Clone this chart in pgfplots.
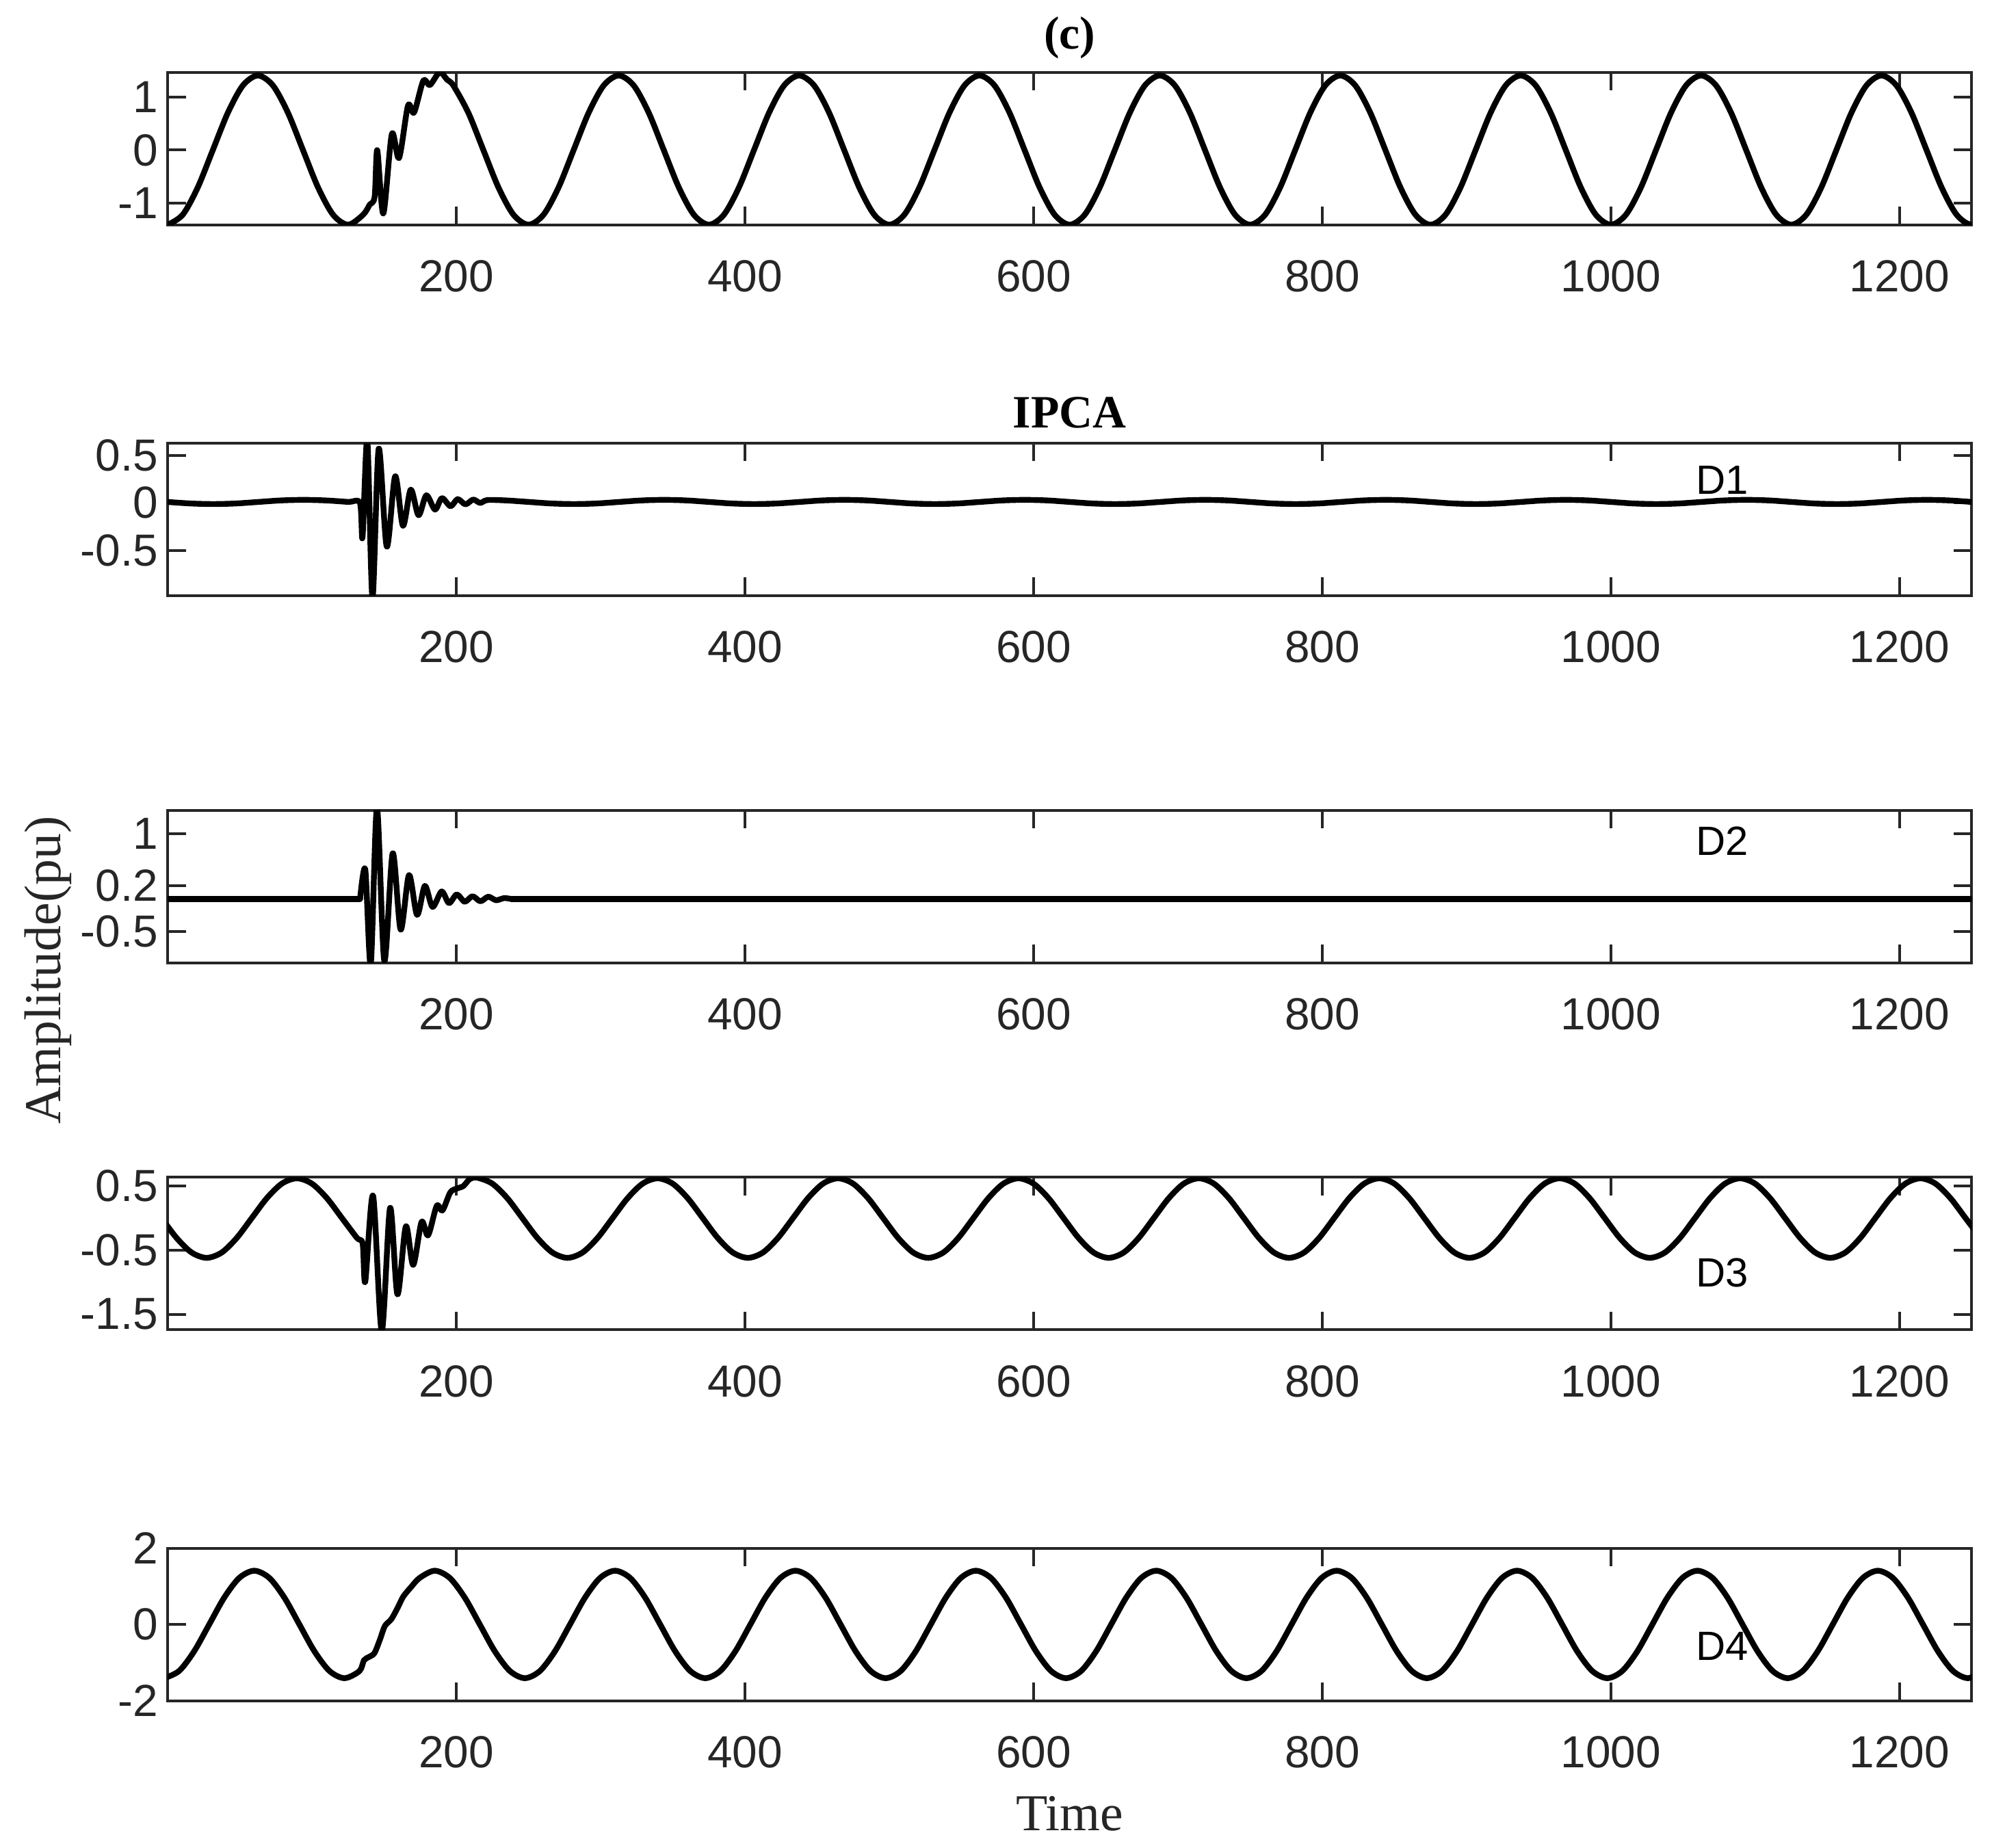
\documentclass[border=0pt]{standalone}
\usepackage{fontspec}
\setmainfont{Liberation Serif}
\setsansfont{Liberation Sans}
\usepackage{pgfplots}
\pgfplotsset{compat=1.18}
\definecolor{axgray}{HTML}{262626}
\tikzset{dlab/.style={font=\fontsize{15}{17}\sffamily, text=black}}
\pgfplotsset{
  panel/.style={
    scale only axis, width=659.27bp, height=55.71bp,
    anchor=south west,
    xmin=0, xmax=1250,
    xtick={200,400,600,800,1000,1200},
    xticklabels={200,400,600,800,1000,1200},
    tick align=inside,
    major tick length=6.6bp,
    axis line style={line width=1bp, draw=axgray},
    major tick style={line width=1bp, draw=axgray},
    tick label style={font=\fontsize{16.5}{18}\sffamily, text=axgray},
    xticklabel style={yshift=-9.5bp},
    clip=true,
  },
  sig/.style={black, line width=2.1bp, line join=round, line cap=round, smooth},
  flat/.style={black, line width=2.1bp, line join=round, line cap=round},
}
\begin{document}
\begin{tikzpicture}
\useasboundingbox (0,0) rectangle (728bp,675.5bp);

% ---------------- Panel 1 : (c)
\begin{axis}[panel, at={(61.29bp,593.35bp)}, ymin=-1.41, ymax=1.47,
  ytick={-1,0,1}, yticklabels={-1,0,1}]
\addplot[sig] coordinates {
(0,-1.41) (10.42,-1.221) (20.83,-0.705) (31.25,0) (41.67,0.705) (52.08,1.221) (62.5,1.41) (72.92,1.221) (83.33,0.705) (93.75,0) (104.17,-0.705) (114.58,-1.221)
(125,-1.41) (135.42,-1.221) (140,-1.03) (143.4,-0.88) (145.2,0) (149.4,-1.2) (155.3,0.3) (160.3,-0.15) (166.5,0.84) (170.7,0.71) (177.1,1.31) (181.7,1.23) (188.4,1.47) (193.6,1.33) (197.92,1.221) (208.33,0.705) (218.75,0) (229.17,-0.705) (239.58,-1.221)
(250,-1.41) (260.42,-1.221) (270.83,-0.705) (281.25,0) (291.67,0.705) (302.08,1.221) (312.5,1.41) (322.92,1.221) (333.33,0.705) (343.75,0) (354.17,-0.705) (364.58,-1.221)
(375,-1.41) (385.42,-1.221) (395.83,-0.705) (406.25,0) (416.67,0.705) (427.08,1.221) (437.5,1.41) (447.92,1.221) (458.33,0.705) (468.75,0) (479.17,-0.705) (489.58,-1.221)
(500,-1.41) (510.42,-1.221) (520.83,-0.705) (531.25,0) (541.67,0.705) (552.08,1.221) (562.5,1.41) (572.92,1.221) (583.33,0.705) (593.75,0) (604.17,-0.705) (614.58,-1.221)
(625,-1.41) (635.42,-1.221) (645.83,-0.705) (656.25,0) (666.67,0.705) (677.08,1.221) (687.5,1.41) (697.92,1.221) (708.33,0.705) (718.75,0) (729.17,-0.705) (739.58,-1.221)
(750,-1.41) (760.42,-1.221) (770.83,-0.705) (781.25,0) (791.67,0.705) (802.08,1.221) (812.5,1.41) (822.92,1.221) (833.33,0.705) (843.75,0) (854.17,-0.705) (864.58,-1.221)
(875,-1.41) (885.42,-1.221) (895.83,-0.705) (906.25,0) (916.67,0.705) (927.08,1.221) (937.5,1.41) (947.92,1.221) (958.33,0.705) (968.75,0) (979.17,-0.705) (989.58,-1.221)
(1000,-1.41) (1010.42,-1.221) (1020.83,-0.705) (1031.25,0) (1041.67,0.705) (1052.08,1.221) (1062.5,1.41) (1072.92,1.221) (1083.33,0.705) (1093.75,0) (1104.17,-0.705) (1114.58,-1.221)
(1125,-1.41) (1135.42,-1.221) (1145.83,-0.705) (1156.25,0) (1166.67,0.705) (1177.08,1.221) (1187.5,1.41) (1197.92,1.221) (1208.33,0.705) (1218.75,0) (1229.17,-0.705) (1239.58,-1.221)
(1250,-1.41) (1260.42,-1.221)
};
\end{axis}

% ---------------- Panel 2 : D1
\begin{axis}[panel, at={(61.29bp,457.78bp)}, ymin=-0.975, ymax=0.628,
  ytick={-0.5,0,0.5}, yticklabels={-0.5,0,0.5}]
\addplot[sig] coordinates {
(0,0.01) (15.88,-0.006) (31.5,-0.012) (47.13,-0.006) (62.75,0.01) (78.38,0.026) (94,0.032) (109.63,0.026) (125.25,0.01) (133.2,0.0)
(135,-0.36) (138.3,0.66) (141.9,-1.0) (146.2,0.57) (151.8,-0.46) (157.6,0.28) (163,-0.24) (168.4,0.14) (173.8,-0.13) (179.2,0.08) (185.2,-0.07) (190,0.05) (196,-0.035) (200.9,0.04) (206.3,-0.015) (211.7,0.035) (216.5,0.0) (221.5,0.03)
(234.63,0.026) (250.25,0.01) (265.88,-0.006) (281.5,-0.012) (297.13,-0.006) (312.75,0.01) (328.38,0.026)
(344,0.032) (359.63,0.026) (375.25,0.01) (390.88,-0.006) (406.5,-0.012) (422.13,-0.006) (437.75,0.01) (453.38,0.026)
(469,0.032) (484.63,0.026) (500.25,0.01) (515.88,-0.006) (531.5,-0.012) (547.13,-0.006) (562.75,0.01) (578.38,0.026)
(594,0.032) (609.63,0.026) (625.25,0.01) (640.88,-0.006) (656.5,-0.012) (672.13,-0.006) (687.75,0.01) (703.38,0.026)
(719,0.032) (734.63,0.026) (750.25,0.01) (765.88,-0.006) (781.5,-0.012) (797.13,-0.006) (812.75,0.01) (828.38,0.026)
(844,0.032) (859.63,0.026) (875.25,0.01) (890.88,-0.006) (906.5,-0.012) (922.13,-0.006) (937.75,0.01) (953.38,0.026)
(969,0.032) (984.63,0.026) (1000.25,0.01) (1015.88,-0.006) (1031.5,-0.012) (1047.13,-0.006) (1062.75,0.01) (1078.38,0.026)
(1094,0.032) (1109.63,0.026) (1125.25,0.01) (1140.88,-0.006) (1156.5,-0.012) (1172.13,-0.006) (1187.75,0.01) (1203.38,0.026)
(1219,0.032) (1234.63,0.026) (1250.25,0.01) (1265.88,-0.006)
};
\node[dlab] at (axis cs:1077,0.24) {D1};
\end{axis}

% ---------------- Panel 3 : D2
\begin{axis}[panel, at={(61.29bp,323.6bp)}, ymin=-0.978, ymax=1.359,
  ytick={-0.5,0.2,1}, yticklabels={-0.5,0.2,1}]
\addplot[flat] coordinates {(0,0) (133.3,0)};
\addplot[sig] coordinates {
(133.3,0) (136.9,0.45) (140.7,-1.0) (145,1.40) (150.1,-0.95) (155.9,0.70) (161.4,-0.47) (167.2,0.365) (172.8,-0.245) (178.2,0.20) (183.5,-0.123) (189.8,0.114) (194.9,-0.064) (200.3,0.069) (205.8,-0.043) (211.2,0.041) (216.7,-0.036) (222.1,0.034) (227.5,-0.02) (233,0.012) (238,0)
};
\addplot[flat] coordinates {(238,0) (1250,0)};
\node[dlab] at (axis cs:1077,0.89) {D2};
\end{axis}

% ---------------- Panel 4 : D3
\begin{axis}[panel, at={(61.29bp,189.43bp)}, ymin=-1.741, ymax=0.635,
  ytick={-1.5,-0.5,0.5}, yticklabels={-1.5,-0.5,0.5}]
\addplot[sig] coordinates {
(-4.25,0) (6.17,-0.31) (16.58,-0.537)
(27,-0.62) (37.42,-0.537) (47.83,-0.31) (58.25,0) (68.67,0.31) (79.08,0.537) (89.5,0.62) (99.92,0.537) (110.33,0.31) (120.75,0) (131.17,-0.31)
(135.1,-0.40) (136.9,-0.99) (142.3,0.35) (148.3,-1.76) (154.1,0.16) (159.2,-1.19) (165,-0.13) (170.1,-0.73) (175.9,-0.06) (180.4,-0.27) (186.4,0.19) (190.4,0.12) (195.8,0.40) (200.3,0.46) (204.9,0.50) (209.4,0.61) (214.5,0.63)
(224.92,0.537) (235.33,0.31) (245.75,0) (256.17,-0.31) (266.58,-0.537)
(277,-0.62) (287.42,-0.537) (297.83,-0.31) (308.25,0) (318.67,0.31) (329.08,0.537) (339.5,0.62) (349.92,0.537) (360.33,0.31) (370.75,0) (381.17,-0.31) (391.58,-0.537)
(402,-0.62) (412.42,-0.537) (422.83,-0.31) (433.25,0) (443.67,0.31) (454.08,0.537) (464.5,0.62) (474.92,0.537) (485.33,0.31) (495.75,0) (506.17,-0.31) (516.58,-0.537)
(527,-0.62) (537.42,-0.537) (547.83,-0.31) (558.25,0) (568.67,0.31) (579.08,0.537) (589.5,0.62) (599.92,0.537) (610.33,0.31) (620.75,0) (631.17,-0.31) (641.58,-0.537)
(652,-0.62) (662.42,-0.537) (672.83,-0.31) (683.25,0) (693.67,0.31) (704.08,0.537) (714.5,0.62) (724.92,0.537) (735.33,0.31) (745.75,0) (756.17,-0.31) (766.58,-0.537)
(777,-0.62) (787.42,-0.537) (797.83,-0.31) (808.25,0) (818.67,0.31) (829.08,0.537) (839.5,0.62) (849.92,0.537) (860.33,0.31) (870.75,0) (881.17,-0.31) (891.58,-0.537)
(902,-0.62) (912.42,-0.537) (922.83,-0.31) (933.25,0) (943.67,0.31) (954.08,0.537) (964.5,0.62) (974.92,0.537) (985.33,0.31) (995.75,0) (1006.17,-0.31) (1016.58,-0.537)
(1027,-0.62) (1037.42,-0.537) (1047.83,-0.31) (1058.25,0) (1068.67,0.31) (1079.08,0.537) (1089.5,0.62) (1099.92,0.537) (1110.33,0.31) (1120.75,0) (1131.17,-0.31) (1141.58,-0.537)
(1152,-0.62) (1162.42,-0.537) (1172.83,-0.31) (1183.25,0) (1193.67,0.31) (1204.08,0.537) (1214.5,0.62) (1224.92,0.537) (1235.33,0.31) (1245.75,0) (1256.17,-0.31)
};
\node[dlab] at (axis cs:1077,-0.85) {D3};
\end{axis}

% ---------------- Panel 5 : D4
\begin{axis}[panel, at={(61.29bp,53.86bp)}, ymin=-2, ymax=2,
  ytick={-2,0,2}, yticklabels={-2,0,2}]
\addplot[sig] coordinates {
(-2.5,-1.41) (7.92,-1.221) (18.33,-0.705) (28.75,0) (39.17,0.705) (49.58,1.221) (60,1.41) (70.42,1.221) (80.83,0.705) (91.25,0) (101.67,-0.705) (112.08,-1.221)
(122.5,-1.41) (132.92,-1.221) (136,-0.94) (139.6,-0.85) (143.2,-0.755) (146.9,-0.415) (150.5,-0.04) (155,0.14) (159.5,0.45) (163.2,0.73) (168.6,0.98) (174.58,1.221) (185,1.41) (195.42,1.221) (205.83,0.705) (216.25,0) (226.67,-0.705) (237.08,-1.221)
(247.5,-1.41) (257.92,-1.221) (268.33,-0.705) (278.75,0) (289.17,0.705) (299.58,1.221) (310,1.41) (320.42,1.221) (330.83,0.705) (341.25,0) (351.67,-0.705) (362.08,-1.221)
(372.5,-1.41) (382.92,-1.221) (393.33,-0.705) (403.75,0) (414.17,0.705) (424.58,1.221) (435,1.41) (445.42,1.221) (455.83,0.705) (466.25,0) (476.67,-0.705) (487.08,-1.221)
(497.5,-1.41) (507.92,-1.221) (518.33,-0.705) (528.75,0) (539.17,0.705) (549.58,1.221) (560,1.41) (570.42,1.221) (580.83,0.705) (591.25,0) (601.67,-0.705) (612.08,-1.221)
(622.5,-1.41) (632.92,-1.221) (643.33,-0.705) (653.75,0) (664.17,0.705) (674.58,1.221) (685,1.41) (695.42,1.221) (705.83,0.705) (716.25,0) (726.67,-0.705) (737.08,-1.221)
(747.5,-1.41) (757.92,-1.221) (768.33,-0.705) (778.75,0) (789.17,0.705) (799.58,1.221) (810,1.41) (820.42,1.221) (830.83,0.705) (841.25,0) (851.67,-0.705) (862.08,-1.221)
(872.5,-1.41) (882.92,-1.221) (893.33,-0.705) (903.75,0) (914.17,0.705) (924.58,1.221) (935,1.41) (945.42,1.221) (955.83,0.705) (966.25,0) (976.67,-0.705) (987.08,-1.221)
(997.5,-1.41) (1007.92,-1.221) (1018.33,-0.705) (1028.75,0) (1039.17,0.705) (1049.58,1.221) (1060,1.41) (1070.42,1.221) (1080.83,0.705) (1091.25,0) (1101.67,-0.705) (1112.08,-1.221)
(1122.5,-1.41) (1132.92,-1.221) (1143.33,-0.705) (1153.75,0) (1164.17,0.705) (1174.58,1.221) (1185,1.41) (1195.42,1.221) (1205.83,0.705) (1216.25,0) (1226.67,-0.705) (1237.08,-1.221)
(1247.5,-1.41) (1257.92,-1.221)
};
\node[dlab] at (axis cs:1077,-0.57) {D4};
\end{axis}

\node[font=\fontsize{17}{20}\selectfont\bfseries] at (390.9bp,661.6bp) {(c)};
\node[font=\fontsize{17}{20}\selectfont\bfseries] at (390.9bp,524.6bp) {IPCA};
\node[font=\fontsize{19}{22}\selectfont, text=axgray] at (390.9bp,12.5bp) {Time};
\node[font=\fontsize{19}{22}\selectfont, text=axgray, rotate=90] at (17.5bp,320.8bp) {Amplitude(pu)};
\end{tikzpicture}
\end{document}
